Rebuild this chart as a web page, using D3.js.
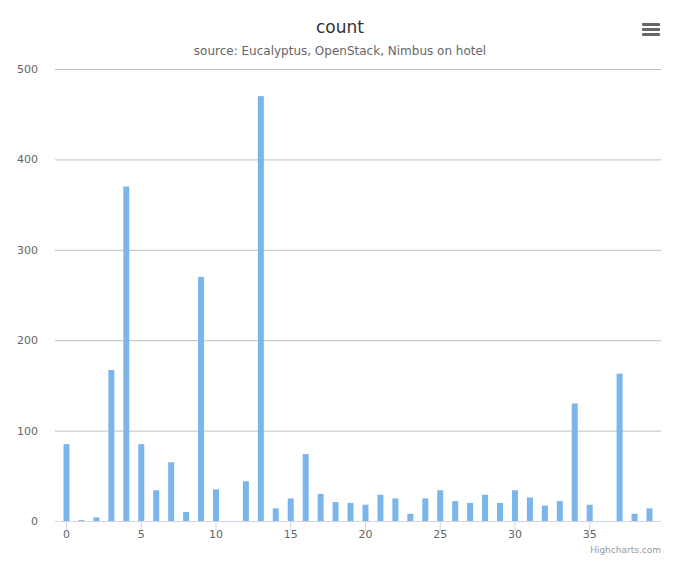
<!DOCTYPE html><html><head><script src="https://cdn.jsdelivr.net/npm/d3@7"></script>
<style>body{margin:0;font-family:"DejaVu Sans",sans-serif;background:#fff}</style></head><body><svg id="c" width="680" height="566"></svg>
<script>
const categories=d3.range(40);
const values=[85,1,4,167,370,85,34,65,10,270,35,0,44,470,14,25,74,30,21,20,18,29,25,8,25,34,22,20,29,20,34,26,17,22,130,18,0,163,8,14];
const yTicks=[0,100,200,300,400,500];
const xTicks=[0,5,10,15,20,25,30,35];
const svg=d3.select("#c");
const L=55,R=661,T=69,B=521;
const x=d3.scaleLinear().domain([-0.77,39.77]).range([L,R]);
const y=d3.scaleLinear().domain([0,500]).range([B,T]);
svg.append("text").attr("x",340).attr("y",33).attr("text-anchor","middle").attr("font-size",17).attr("fill","#333").text("count");
svg.append("text").attr("x",340).attr("y",55).attr("text-anchor","middle").attr("font-size",12).attr("fill","#666").text("source: Eucalyptus, OpenStack, Nimbus on hotel");
yTicks.forEach(t=>{svg.append("line").attr("x1",L).attr("x2",R).attr("y1",y(t)+0.5).attr("y2",y(t)+0.5).attr("stroke",t==0?"#ccd6eb":"#c0c0c0");
svg.append("text").attr("x",38).attr("y",y(t)+4).attr("text-anchor","end").attr("font-size",11).attr("fill","#666").text(t);});
xTicks.forEach(t=>{svg.append("line").attr("x1",x(t)).attr("x2",x(t)).attr("y1",B).attr("y2",B+10).attr("stroke","#ccd6eb");
svg.append("text").attr("x",x(t)).attr("y",B+17).attr("text-anchor","middle").attr("font-size",11).attr("fill","#666").text(t);});
svg.selectAll("rect.b").data(values).join("rect").attr("class","b").attr("x",(d,i)=>x(categories[i])-3).attr("width",6)
.attr("y",d=>y(d)).attr("height",d=>B-y(d)).attr("fill","#7cb5ec");
svg.append("text").attr("x",661).attr("y",553).attr("text-anchor","end").attr("font-size",9).attr("fill","#999").text("Highcharts.com");
[0,5,10].forEach(o=>svg.append("rect").attr("x",642).attr("y",23+o).attr("width",18).attr("height",3).attr("rx",1).attr("fill","#666"));
</script></body></html>
